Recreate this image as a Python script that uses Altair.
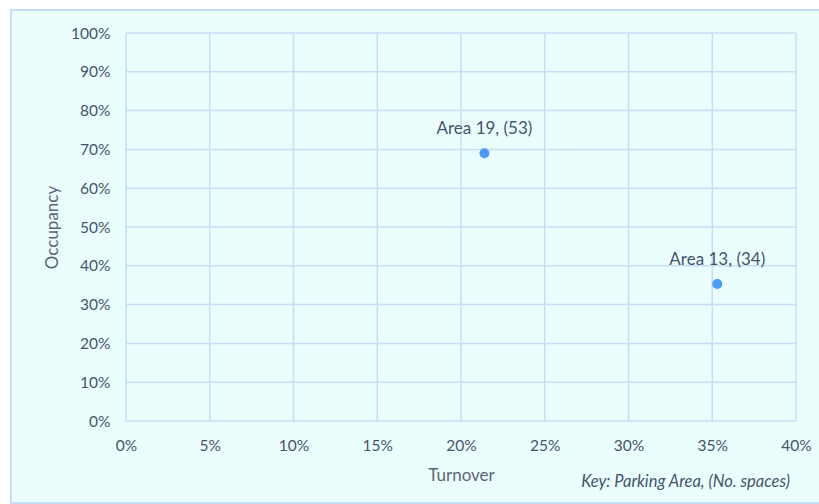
import altair as alt
import pandas as pd

areas = ["Area 19, (53)", "Area 13, (34)"]
turnover = [0.214, 0.353]
occupancy = [0.69, 0.353]
x_ticks = [0, 0.05, 0.1, 0.15, 0.2, 0.25, 0.3, 0.35, 0.4]
y_ticks = [0, 0.1, 0.2, 0.3, 0.4, 0.5, 0.6, 0.7, 0.8, 0.9, 1.0]

df = pd.DataFrame({"label": areas, "turnover": turnover, "occupancy": occupancy})

FONT = "Lato"
TXT = "#44546A"
GRID = "#C9DCF7"

xscale = alt.Scale(domain=[0, 0.4], nice=False)
yscale = alt.Scale(domain=[0, 1], nice=False)

xaxis = alt.Axis(format=".0%", values=x_ticks, tickCount=len(x_ticks), titlePadding=14, zindex=2,
                 grid=False, domain=False, labelOverlap=False, labelFlush=False, labelPadding=17)
yaxis = alt.Axis(format=".0%", values=y_ticks, tickCount=len(y_ticks), titlePadding=9, zindex=2,
                 grid=False, domain=False, labelOverlap=False, labelFlush=False, labelPadding=16)

frame = alt.Chart(pd.DataFrame({"a": [0]})).mark_rect(
    fill="#EBFEFE", stroke="#C5DDF8", strokeWidth=2
).encode(
    x=alt.value(-115), x2=alt.value(720), y=alt.value(-23), y2=alt.value(470)
)

vgrid = alt.Chart(pd.DataFrame({"v": x_ticks})).mark_rule(color=GRID, strokeWidth=1.5).encode(
    x=alt.X("v:Q", scale=xscale, title="Turnover", axis=xaxis), y=alt.value(0), y2=alt.value(388))
hgrid = alt.Chart(pd.DataFrame({"v": y_ticks})).mark_rule(color=GRID, strokeWidth=1.5).encode(
    y=alt.Y("v:Q", scale=yscale, title="Occupancy", axis=yaxis), x=alt.value(0), x2=alt.value(670))

pts = alt.Chart(df).mark_circle(size=100, opacity=1, color="#4C9BFA").encode(
    x=alt.X("turnover:Q", scale=xscale, title="Turnover", axis=xaxis),
    y=alt.Y("occupancy:Q", scale=yscale, title="Occupancy", axis=yaxis))
lbl = alt.Chart(df).mark_text(dy=-24, font=FONT, fontSize=17, color=TXT).encode(
    x="turnover:Q", y="occupancy:Q", text="label:N")

key = alt.Chart(pd.DataFrame({"t": ["Key: Parking Area, (No. spaces)"]})).mark_text(
    font=FONT, fontSize=16.5, fontStyle="italic", color=TXT, align="right", baseline="middle"
).encode(x=alt.value(664), y=alt.value(449), text="t:N")

chart = alt.layer(frame, vgrid, hgrid, pts, lbl, key).properties(
    width=670, height=388,
    padding={"left": 126, "top": 33, "right": 23, "bottom": 83},
    autosize=alt.AutoSizeParams(type="none"),
    background="white",
).configure_view(stroke=None, fill=None).configure_axis(
    ticks=False, labelFont=FONT, labelFontSize=15.5, labelColor=TXT, labelOverlap=False,
    titleFont=FONT, titleFontSize=17, titleColor="#596478", titleFontWeight="normal",
)

chart.save("out.html", embed_options={"renderer": "svg", "actions": False})
